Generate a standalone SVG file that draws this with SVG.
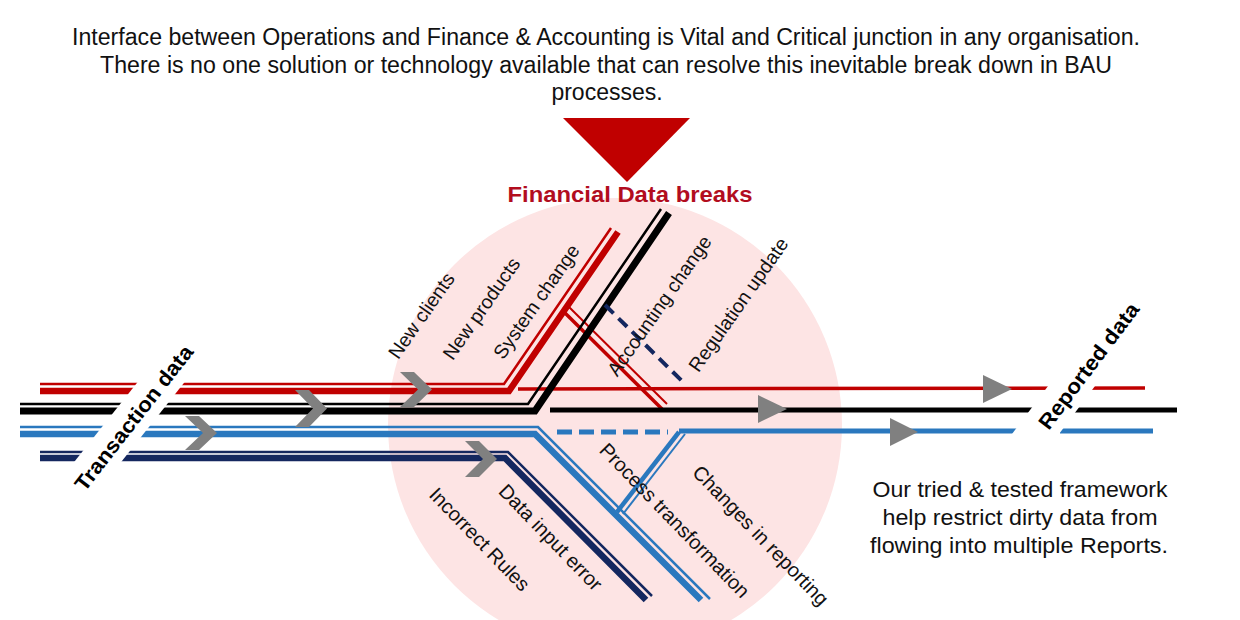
<svg xmlns="http://www.w3.org/2000/svg" width="1240" height="620" viewBox="0 0 1240 620">
<style>
.t{font-family:"Liberation Sans",Arial,sans-serif;fill:#111}
.lbl{font-family:"Liberation Sans",Arial,sans-serif;font-size:19.5px;fill:#111}
.lbl2{font-family:"Liberation Sans",Arial,sans-serif;font-size:20px;fill:#111}
.bold{font-family:"Liberation Sans",Arial,sans-serif;font-weight:bold;font-size:21px;fill:#000}
.chev{fill:#808080}
.ln{fill:none;stroke-linejoin:miter}
.red{stroke:#c00000}
.blk{stroke:#000}
.blu{stroke:#2a78be}
.nav{stroke:#14275f}
</style>
<rect width="1240" height="620" fill="#fff"/>
<g id="title">
<text class="t" font-size="23" text-anchor="middle" x="606" y="45" textLength="1068" lengthAdjust="spacingAndGlyphs">Interface between Operations and Finance &amp; Accounting is Vital and Critical junction in any organisation.</text>
<text class="t" font-size="23" text-anchor="middle" x="606" y="73" textLength="1012" lengthAdjust="spacingAndGlyphs">There is no one solution or technology available that can resolve this inevitable break down in BAU</text>
<text class="t" font-size="23" text-anchor="middle" x="607" y="100">processes.</text>
</g>
<g id="break-circle">
<circle cx="615" cy="425" r="227" fill="#fde4e4"/>
</g>
<g id="break-marker">
<polygon points="563,118 690,118 627,182" fill="#c00000"/>
<text font-family="'Liberation Sans',Arial,sans-serif" font-weight="bold" font-size="22" fill="#b20d1e" text-anchor="middle" x="630" y="202" textLength="245" lengthAdjust="spacingAndGlyphs">Financial Data breaks</text>
</g>
<g id="connectors">
<!-- red stream -->
<polyline class="ln red" stroke-width="2.5" points="40,384 504,384 611,228"/>
<polyline class="ln red" stroke-width="6.5" points="40,391 509,391 618,232"/>
<line class="red" stroke-width="3.5" x1="563" y1="311" x2="662" y2="409"/>
<line class="red" stroke-width="2" x1="569" y1="307" x2="667" y2="404"/>
<line class="red" stroke-width="3.5" x1="518" y1="389" x2="1145" y2="388"/>
<!-- black stream -->
<polyline class="ln blk" stroke-width="2.5" points="20,404 528,404 661,209"/>
<polyline class="ln blk" stroke-width="7" points="20,411 535,411 669,213"/>
<line class="blk" stroke-width="5" x1="550" y1="410" x2="1177" y2="410"/>
<!-- navy dashed -->
<line class="nav" stroke-width="4" stroke-dasharray="12,7" x1="605" y1="305" x2="684" y2="383"/>
<!-- blue stream -->
<polyline class="ln blu" stroke-width="2.5" points="20,427 538,427 710,599"/>
<polyline class="ln blu" stroke-width="6.5" points="20,434 535,434 701,600"/>
<line class="blu" stroke-width="5" stroke-dasharray="15,7" x1="557" y1="432" x2="668" y2="432"/>
<line class="blu" stroke-width="4.5" x1="617" y1="512" x2="679" y2="432"/>
<line class="blu" stroke-width="2" x1="623" y1="514" x2="685" y2="434"/>
<polyline class="ln blu" stroke-width="5" points="679,431 1028,431"/>
<line class="blu" stroke-width="5" x1="1060" y1="431" x2="1153" y2="431"/>
<!-- navy stream -->
<polyline class="ln nav" stroke-width="2.5" points="40,452 508,452 652,596"/>
<polyline class="ln nav" stroke-width="6.5" points="40,458 505,458 646,600"/>
</g>
<g id="flow-chevrons">
<polygon class="chev" points="185,416 199,416 217,433 199,450 185,450 203,433"/>
<polygon class="chev" points="295,390 309,390 327,408.5 309,427 295,427 313,408.5"/>
<polygon class="chev" points="400,372 414,372 432,389.5 414,407 400,407 418,389.5"/>
<polygon class="chev" points="465,441 479,441 497,459 479,477 465,477 483,459"/>
<polygon class="chev" points="758,395 787,409 758,423"/>
<polygon class="chev" points="890,418 918,432 890,446"/>
<polygon class="chev" points="983,375 1012,389 983,403"/>
</g>
<g id="transaction-data">
<polygon fill="#fff" points="179,330 226,330 83,510 36,510"/>
<text class="bold" text-anchor="middle" transform="translate(134,418) rotate(-52)" x="0" y="7" textLength="178" lengthAdjust="spacingAndGlyphs">Transaction data</text>
</g>
<g id="reported-data">
<polygon fill="#fff" points="1120,290 1167,290 1050,446 1003,446"/>
<text class="bold" text-anchor="middle" transform="translate(1089,366) rotate(-53)" x="0" y="7" textLength="152" lengthAdjust="spacingAndGlyphs">Reported data</text>
</g>
<g id="break-causes">
<text class="lbl" text-anchor="middle" transform="translate(422,316) rotate(-55)" y="6">New clients</text>
<text class="lbl" text-anchor="middle" transform="translate(482,309) rotate(-55)" y="6">New products</text>
<text class="lbl" text-anchor="middle" transform="translate(537,302) rotate(-55)" y="6">System change</text>
<text class="lbl" text-anchor="middle" transform="translate(660,306) rotate(-55)" y="6">Accounting change</text>
<text class="lbl" text-anchor="middle" transform="translate(739,305) rotate(-55)" y="6">Regulation update</text>
<text class="lbl2" text-anchor="middle" transform="translate(479,540) rotate(46)" y="6">Incorrect Rules</text>
<text class="lbl2" text-anchor="middle" transform="translate(550,538) rotate(46)" y="6">Data input error</text>
<text class="lbl2" text-anchor="middle" transform="translate(674,521) rotate(46)" y="6">Process transformation</text>
<text class="lbl2" text-anchor="middle" transform="translate(760,536) rotate(46)" y="6">Changes in reporting</text>
</g>
<g id="framework-note">
<text class="t" font-size="22" text-anchor="middle" x="1020" y="497" textLength="295" lengthAdjust="spacingAndGlyphs">Our tried &amp; tested framework</text>
<text class="t" font-size="22" text-anchor="middle" x="1020" y="525" textLength="275" lengthAdjust="spacingAndGlyphs">help restrict dirty data from</text>
<text class="t" font-size="22" text-anchor="middle" x="1019" y="553" textLength="298" lengthAdjust="spacingAndGlyphs">flowing into multiple Reports.</text>
</g>
</svg>
